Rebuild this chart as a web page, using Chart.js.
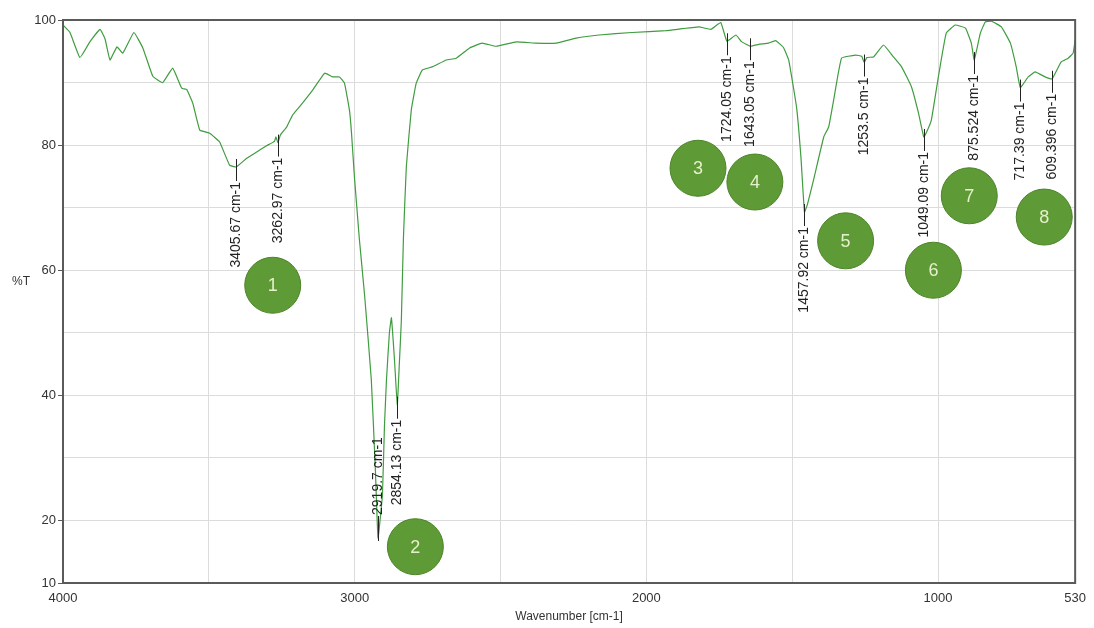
<!DOCTYPE html>
<html>
<head>
<meta charset="utf-8">
<script src="https://cdn.jsdelivr.net/npm/chart.js@4/dist/chart.umd.min.js"></script>
<style>
  body { margin: 0; background: #fff; }
  canvas { display: block; }
</style>
</head>
<body>
<canvas id="espectro" width="1094" height="628"></canvas>
<script>
// espectro FTIR
const wavenumber = [
  4000, 3976, 3942, 3908, 3873, 3856, 3839, 3815, 3795, 3757, 3726, 3692, 3658, 3624,
  3593, 3576, 3555, 3531, 3497, 3463, 3429, 3406, 3370, 3336, 3302, 3275, 3270, 3263,
  3255, 3233, 3213, 3179, 3144, 3103, 3076, 3052, 3035, 3018, 3011, 3001, 2984, 2966,
  2943, 2929, 2920, 2905, 2898, 2891, 2881, 2874, 2864, 2854, 2847, 2840, 2833, 2823,
  2806, 2789, 2768, 2734, 2686, 2652, 2607, 2563, 2515, 2446, 2378, 2309, 2241, 2162,
  2049, 1933, 1820, 1779, 1745, 1724, 1693, 1673, 1643, 1615, 1581, 1557, 1530, 1512,
  1485, 1470, 1458, 1448, 1427, 1392, 1375, 1358, 1331, 1283, 1262, 1253, 1244, 1221,
  1187, 1153, 1125, 1091, 1067, 1049, 1040, 1023, 999, 972, 941, 906, 886, 876,
  855, 838, 817, 783, 752, 732, 718, 691, 667, 633, 609, 578, 554, 537, 530
];
const transmitancia = [
  99.2, 98.0, 94.0, 96.5, 98.5, 97.0, 93.6, 95.7, 94.7, 98.0, 95.5, 91.0, 90.0, 92.3,
  89.1, 88.9, 86.7, 82.4, 81.9, 80.5, 76.8, 76.5, 77.9, 78.9, 79.9, 80.6, 81.3, 80.4,
  81.6, 82.9, 84.8, 86.7, 88.8, 91.5, 90.9, 90.9, 89.9, 85.6, 82.0, 75.0, 65.0, 56.0,
  42.5, 28.0, 17.2, 24.0, 35.0, 42.5, 50.0, 52.4, 46.0, 38.5, 45.0, 52.0, 65.0, 76.5,
  85.6, 89.9, 92.0, 92.5, 93.6, 93.9, 95.5, 96.3, 95.8, 96.5, 96.3, 96.3, 97.1, 97.6,
  98.0, 98.3, 98.9, 98.5, 99.6, 96.6, 97.6, 96.5, 95.8, 96.1, 96.3, 96.7, 95.6, 93.6,
  86.0, 78.0, 69.3, 70.5, 74.4, 81.3, 82.9, 87.2, 93.9, 94.4, 94.2, 93.2, 94.0, 94.1,
  96.0, 94.1, 92.5, 89.3, 85.1, 81.3, 82.0, 84.0, 90.9, 97.9, 99.2, 98.7, 96.3, 93.6,
  97.9, 99.7, 99.8, 98.9, 96.3, 92.5, 89.2, 90.9, 91.7, 90.9, 90.6, 93.3, 93.9, 94.7, 96.8
];

// ticks
const xTicks = [4000, 3500, 3000, 2500, 2000, 1500, 1000, 530];
const xTickLabels = [4000, 3000, 2000, 1000, 530];
const yTicks = [10, 20, 30, 40, 50, 60, 70, 80, 90, 100];
const yTickLabels = [10, 20, 40, 60, 80, 100];

// picos marcados
const picoWn = [3405.67, 3262.97, 2919.7, 2854.13, 1724.05, 1643.05, 1457.92, 1253.5, 1049.09, 875.524, 717.39, 609.396];
const picoT = [76.5, 80.4, 17.2, 38.5, 96.6, 95.8, 69.3, 93.2, 81.3, 93.6, 89.2, 90.6];
const picoTexto = ['3405.67 cm-1', '3262.97 cm-1', '2919.7 cm-1', '2854.13 cm-1', '1724.05 cm-1', '1643.05 cm-1',
  '1457.92 cm-1', '1253.5 cm-1', '1049.09 cm-1', '875.524 cm-1', '717.39 cm-1', '609.396 cm-1'];
const picoArriba = [false, false, true, false, false, false, false, false, false, false, false, false];

// circulos numerados
const circuloNum = ['1', '2', '3', '4', '5', '6', '7', '8'];
const circuloWn = [3281, 2792, 1823, 1628, 1317, 1016, 893, 636];
const circuloT = [57.6, 15.8, 76.3, 74.1, 64.7, 60.0, 71.9, 68.5];

const fuente = "'Liberation Sans', Arial, sans-serif";

const anotaciones = {
  id: 'anotaciones',
  afterDatasetsDraw(chart) {
    const ctx = chart.ctx;
    const x = chart.scales.x;
    const y = chart.scales.y;
    const area = chart.chartArea;

    // marco
    ctx.save();
    ctx.strokeStyle = '#5a5a5a';
    ctx.lineWidth = 2;
    ctx.strokeRect(area.left, area.top, area.right - area.left, area.bottom - area.top);

    // marcas cortas fuera del eje y
    ctx.lineWidth = 1;
    yTickLabels.forEach(v => {
      const py = Math.round(y.getPixelForValue(v)) + 0.5;
      ctx.beginPath();
      ctx.moveTo(area.left - 5, py);
      ctx.lineTo(area.left, py);
      ctx.stroke();
    });

    // etiquetas de picos
    ctx.strokeStyle = '#222';
    ctx.fillStyle = '#222';
    ctx.lineWidth = 1;
    ctx.font = '14px ' + fuente;
    picoWn.forEach((wn, i) => {
      const px = Math.round(x.getPixelForValue(wn)) + 0.5;
      const py = y.getPixelForValue(picoT[i]);
      ctx.beginPath();
      if (picoArriba[i]) {
        ctx.moveTo(px, py + 3);
        ctx.lineTo(px, py - 22);
      } else {
        ctx.moveTo(px, py - 8);
        ctx.lineTo(px, py + 14);
      }
      ctx.stroke();
      ctx.save();
      ctx.textBaseline = 'middle';
      if (picoArriba[i]) {
        ctx.translate(px, py - 23);
        ctx.rotate(-Math.PI / 2);
        ctx.textAlign = 'left';
      } else {
        ctx.translate(px, py + 15);
        ctx.rotate(-Math.PI / 2);
        ctx.textAlign = 'right';
      }
      ctx.fillText(picoTexto[i], 0, 0);
      ctx.restore();
    });

    // circulos
    circuloNum.forEach((n, i) => {
      const cx = x.getPixelForValue(circuloWn[i]);
      const cy = y.getPixelForValue(circuloT[i]);
      ctx.beginPath();
      ctx.arc(cx, cy, 28, 0, Math.PI * 2);
      ctx.fillStyle = '#5e9a36';
      ctx.fill();
      ctx.strokeStyle = '#4c8429';
      ctx.lineWidth = 1;
      ctx.stroke();
      ctx.fillStyle = '#e6f0cc';
      ctx.font = '18px ' + fuente;
      ctx.textAlign = 'center';
      ctx.textBaseline = 'middle';
      ctx.fillText(n, cx, cy + 1);
    });

    // titulo eje y
    ctx.fillStyle = '#333';
    ctx.font = '12px ' + fuente;
    ctx.textAlign = 'left';
    ctx.textBaseline = 'middle';
    ctx.fillText('%T', 12, 282);
    ctx.restore();
  }
};

new Chart(document.getElementById('espectro'), {
  type: 'line',
  data: {
    datasets: [{
      data: wavenumber.map((w, i) => ({ x: w, y: transmitancia[i] })),
      borderColor: '#3f9c3f',
      borderWidth: 1.2,
      pointRadius: 0,
      tension: 0.1
    }]
  },
  options: {
    responsive: false,
    animation: false,
    layout: { padding: { top: 20, right: 17, left: 0, bottom: 0 } },
    plugins: {
      legend: { display: false },
      tooltip: { enabled: false }
    },
    scales: {
      x: {
        type: 'linear',
        reverse: true,
        min: 530,
        max: 4000,
        afterBuildTicks: scale => { scale.ticks = xTicks.map(v => ({ value: v })); },
        afterFit: scale => { scale.height = 45; },
        grid: { color: '#dcdcdc', drawTicks: false },
        border: { display: false },
        ticks: {
          padding: 8,
          maxRotation: 0,
          autoSkip: false,
          color: '#333',
          font: { family: fuente, size: 13 },
          callback: v => xTickLabels.includes(v) ? String(v) : ''
        },
        title: {
          display: true,
          text: 'Wavenumber [cm-1]',
          color: '#333',
          font: { family: fuente, size: 12 },
          padding: { top: 0, bottom: 4 }
        }
      },
      y: {
        min: 10,
        max: 100,
        afterBuildTicks: scale => { scale.ticks = yTicks.map(v => ({ value: v })); },
        afterFit: scale => { scale.width = 63; },
        grid: { color: '#dcdcdc', drawTicks: false },
        border: { display: false },
        ticks: {
          padding: 7,
          autoSkip: false,
          color: '#333',
          font: { family: fuente, size: 13 },
          callback: v => yTickLabels.includes(v) ? String(v) : ''
        }
      }
    }
  },
  plugins: [anotaciones]
});
</script>
</body>
</html>
